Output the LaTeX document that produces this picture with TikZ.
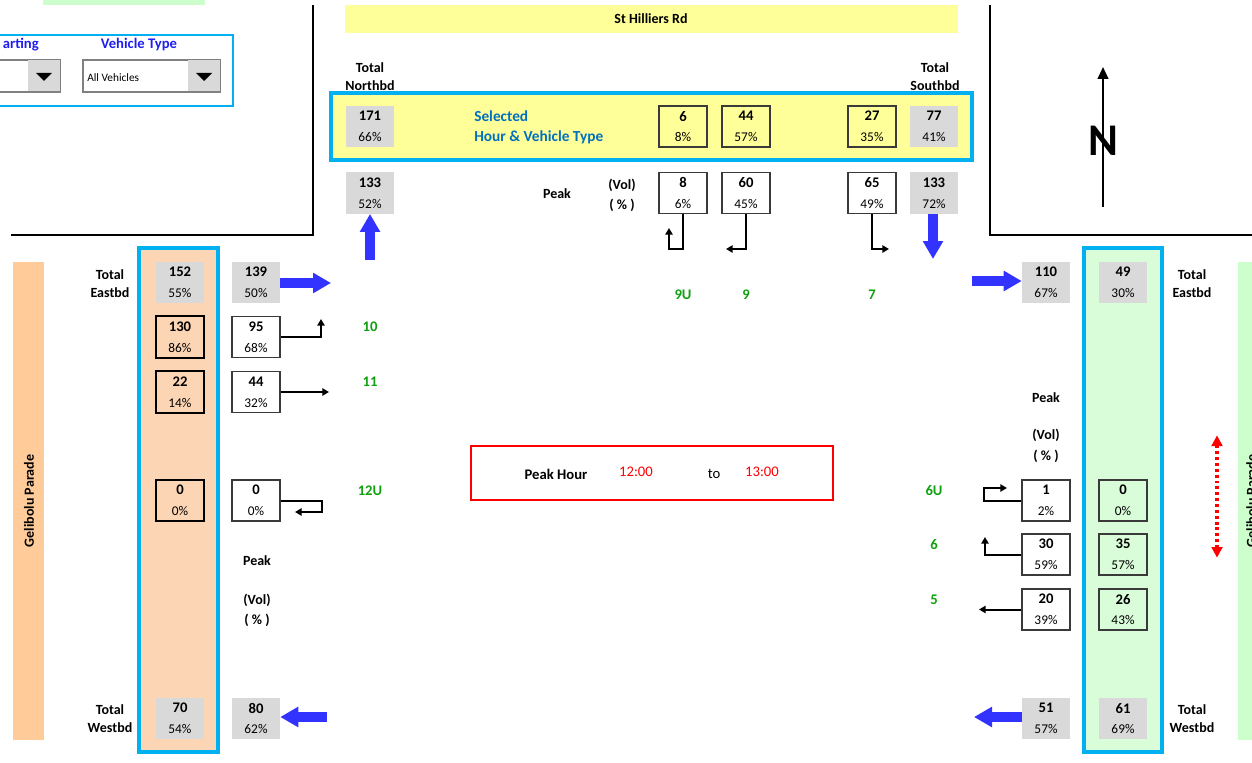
\documentclass[tikz,border=0pt]{standalone}
\usepackage{fontspec}
\setmainfont{Carlito}
\usetikzlibrary{arrows.meta}
\definecolor{selblue}{HTML}{00B0F0}
\definecolor{ylw}{HTML}{FFFF99}
\definecolor{cgray}{HTML}{D9D9D9}
\definecolor{peach}{HTML}{FCD5B4}
\definecolor{peachstrip}{HTML}{FFCC99}
\definecolor{lgreen}{HTML}{D9FCD9}
\definecolor{stripgreen}{HTML}{CCFFCC}
\definecolor{gtext}{HTML}{10A010}
\definecolor{barrow}{HTML}{3333FF}
\definecolor{headblue}{HTML}{1F1FF0}
\definecolor{seltext}{HTML}{0070C0}
\definecolor{cbord}{HTML}{3A3A3A}
\newcommand\cv[2]{{\bfseries\fontsize{11}{15.5}\selectfont #1}\\#2\%}
\tikzset{
  cell/.style={minimum width=36pt, minimum height=31pt, inner sep=0pt, align=center, font=\fontsize{10}{15.5}\selectfont},
  gcell/.style={cell, fill=cgray},
  wcell/.style={cell, draw=cbord, line width=1.1pt, fill=white},
  ycell/.style={cell, draw=cbord, line width=1.1pt, fill=ylw},
  pcell/.style={cell, draw=black, line width=1.4pt, fill=peach},
  lgcell/.style={cell, draw=cbord, line width=1.1pt, fill=lgreen},
  lbl/.style={font=\bfseries\fontsize{10.5}{13.5}\selectfont, align=center, inner sep=0pt},
  glbl/.style={font=\bfseries\fontsize{11}{13}\selectfont, text=gtext, inner sep=0pt},
  road/.style={line width=1.6pt, black},
  colbox/.style={draw=selblue, line width=2.4pt},
  fatarrow/.style={barrow, line width=8pt, -{Triangle[length=13.5pt,width=14.5pt]}},
  turn/.style={black, line width=1.5pt, -{Triangle[length=5pt,width=5.5pt]}},
  reddot/.style={red, line width=2.4pt, dash pattern=on 2.2pt off 2.2pt, {Triangle[length=8pt,width=8pt,sep=1pt]}-{Triangle[length=8pt,width=8pt,sep=1pt]}},
}
\begin{document}
\begin{tikzpicture}[x=0.75pt,y=-0.75pt]
\useasboundingbox (0,0) rectangle (1252,763);
\fill[white] (0,0) rectangle (1252,763);

% ---------- top-left controls ----------
\fill[stripgreen] (43,0) rectangle (205,5);
\draw[selblue, line width=2.2pt, fill=white] (-6,35) rectangle (233,106);
\node[anchor=east, inner sep=0pt, font=\bfseries\fontsize{11}{13}\selectfont, text=headblue] (startlbl) at (39,45) {arting};
\node[inner sep=0pt, font=\bfseries\fontsize{11}{13}\selectfont, text=headblue] (vtlbl) at (139,45) {Vehicle Type};
\draw[gray, line width=0.8pt, fill=white] (-6,60) rectangle (60,92);
\fill[cgray] (28,60.5) rectangle (59.5,91.5);
\fill[black] (36,73) -- (52,73) -- (44,81) -- cycle;
\draw[gray, line width=0.8pt, fill=white] (83,60) rectangle (220,92);
\fill[cgray] (188,60.5) rectangle (219.5,91.5);
\fill[black] (196,73) -- (212,73) -- (204,81) -- cycle;
\node[anchor=west, inner sep=0pt, font=\fontsize{8.5}{10}\selectfont] (allveh) at (87,78) {All Vehicles};

% ---------- roads ----------
\draw[road] (313,5) -- (313,235) -- (11,235);
\draw[road] (990,5) -- (990,235) -- (1252,235);

% ---------- north compass ----------
\coordinate (nbot) at (1103,207);
\coordinate (ntop) at (1103,67);
\draw[black, line width=1.6pt, -{Triangle[length=9pt,width=8pt]}] (nbot) -- (ntop);
\node[inner sep=0pt, font=\bfseries\fontsize{34}{34}\selectfont] (northN) at (1103,141) {N};

% ---------- top: St Hilliers Rd ----------
\fill[ylw] (345,5) rectangle (958,33);
\node[lbl] (sthr) at (651,19) {St Hilliers Rd};
\node[lbl] (totnb) at (370,77) {Total\\Northbd};
\node[lbl] (totsb) at (935,77) {Total\\Southbd};
\draw[selblue, line width=2.4pt, fill=ylw] (331,93) rectangle (972,160);
\node[gcell] (N171) at (370,126.5) {\cv{171}{66}};
\node[anchor=west, align=left, inner sep=0pt, text=seltext, font=\bfseries\fontsize{11.5}{15}\selectfont] (seltxt) at (474,127) {Selected\\Hour \& Vehicle Type};
\node[ycell] (s6) at (683,126.5) {\cv{6}{8}};
\node[ycell] (s44) at (746,126.5) {\cv{44}{57}};
\node[ycell] (s27) at (872,126.5) {\cv{27}{35}};
\node[gcell] (S77) at (934,126.5) {\cv{77}{41}};

\node[gcell] (N133) at (370,193) {\cv{133}{52}};
\node[lbl] (pkN) at (557,194) {Peak};
\node[lbl, font=\bfseries\fontsize{10.5}{15}\selectfont] (volN) at (622,195) {(Vol)\\( \% )};
\node[wcell] (p8) at (683,193) {\cv{8}{6}};
\node[wcell] (p60) at (746,193) {\cv{60}{45}};
\node[wcell] (p65) at (872,193) {\cv{65}{49}};
\node[gcell] (S133) at (934,193) {\cv{133}{72}};

\coordinate (u9) at (669,228);
\coordinate (t9) at (726,249);
\coordinate (t7) at (889,249);
\draw[turn] (p8.south) -- ++(0,35) -| (u9);
\draw[turn] (p60.south) |- (t9);
\draw[turn] (p65.south) |- (t7);
\coordinate (nbtail) at (370,260);
\draw[fatarrow] (nbtail) -- (N133.south);
\coordinate (sbtip) at (933,259);
\draw[fatarrow] (S133.south -| sbtip) -- (sbtip);
\node[glbl] (g9U) at (683,295) {9U};
\node[glbl] (g9) at (746,295) {9};
\node[glbl] (g7) at (872,295) {7};

% ---------- left: Gelibolu Parade ----------
\fill[peachstrip] (13,262) rectangle (44,740);
\node[lbl, rotate=90] (gpL) at (29,501) {Gelibolu Parade};
\draw[colbox, fill=peach] (139,248) rectangle (218,752);
\node[lbl] (totebL) at (110,284) {Total\\Eastbd};
\node[gcell] (E152) at (180,282.5) {\cv{152}{55}};
\node[gcell] (E139) at (256,282.5) {\cv{139}{50}};
\coordinate (ebtip) at (331,283);
\draw[fatarrow] (E139.east |- ebtip) -- (ebtip);
\node[pcell] (E130) at (180,337) {\cv{130}{86}};
\node[wcell] (E95) at (256,337) {\cv{95}{68}};
\coordinate (l10) at (321,319);
\draw[turn] (E95.east) -| (l10);
\node[glbl] (g10) at (370,327) {10};
\node[pcell] (E22) at (180,392) {\cv{22}{14}};
\node[wcell] (E44) at (256,392) {\cv{44}{32}};
\coordinate (t11) at (329,392);
\draw[turn] (E44.east) -- (t11);
\node[glbl] (g11) at (370,382) {11};
\node[pcell] (E0a) at (180,500.5) {\cv{0}{0}};
\node[wcell] (E0b) at (256,500.5) {\cv{0}{0}};
\coordinate (u12) at (295,512);
\draw[turn] (E0b.east) -- ++(41,0) |- (u12);
\node[glbl] (g12U) at (370,491) {12U};
\node[lbl] (pkL) at (257,561) {Peak};
\node[lbl, font=\bfseries\fontsize{10.5}{15}\selectfont] (volL) at (257,610) {(Vol)\\( \% )};
\node[lbl] (totwbL) at (110,719) {Total\\Westbd};
\node[gcell] (W70) at (180,718.5) {\cv{70}{54}};
\node[gcell] (W80) at (256,718.5) {\cv{80}{62}};
\coordinate (wbtail) at (327,717);
\draw[fatarrow] (wbtail) -- (W80.east |- wbtail);

% ---------- centre: peak hour ----------
\node[draw=red, line width=1.3pt, minimum width=271.5pt, minimum height=40.5pt, inner sep=0pt] (phbox) at (652,473) {};
\node[lbl, font=\bfseries\fontsize{11}{13}\selectfont] (phlbl) at (556,474) {Peak Hour};
\node[inner sep=0pt, text=red, font=\fontsize{11}{13}\selectfont] (ph1) at (636,472) {12:00};
\node[inner sep=0pt, font=\fontsize{11}{13}\selectfont] (phto) at (714,474) {to};
\node[inner sep=0pt, text=red, font=\fontsize{11}{13}\selectfont] (ph2) at (762,472) {13:00};

% ---------- right side ----------
\coordinate (ebtail2) at (972,281);
\node[gcell] (E110) at (1046,282.5) {\cv{110}{67}};
\draw[fatarrow] (ebtail2) -- (E110.west |- ebtail2);
\draw[colbox, fill=lgreen] (1084,248) rectangle (1162,752);
\node[gcell] (E49) at (1123,282.5) {\cv{49}{30}};
\node[lbl] (totebR) at (1192,284) {Total\\Eastbd};
\fill[stripgreen] (1238,262) rectangle (1254,740);
\begin{scope}
\clip (1238,262) rectangle (1252,740);
\node[lbl, rotate=90, anchor=base] (gpR) at (1256,501) {Gelibolu Parade};
\end{scope}
\node[lbl] (pkR) at (1046,398) {Peak};
\node[lbl, font=\bfseries\fontsize{10.5}{15.5}\selectfont] (volR) at (1046,446) {(Vol)\\( \% )};
\coordinate (rtop) at (1217,434);
\coordinate (rbot) at (1217,559);
\draw[reddot] (rtop) -- (rbot);

\node[wcell] (W1) at (1046,500.5) {\cv{1}{2}};
\node[lgcell] (G0) at (1123,500.5) {\cv{0}{0}};
\coordinate (u6) at (1007,488);
\draw[turn] (W1.west) -- ++(-37,0) |- (u6);
\node[glbl] (g6U) at (934,491) {6U};
\node[wcell] (W30) at (1046,554.5) {\cv{30}{59}};
\node[lgcell] (G35) at (1123,554.5) {\cv{35}{57}};
\coordinate (l6) at (985,537);
\draw[turn] (W30.west) -| (l6);
\node[glbl] (g6) at (934,545) {6};
\node[wcell] (W20) at (1046,609.5) {\cv{20}{39}};
\node[lgcell] (G26) at (1123,609.5) {\cv{26}{43}};
\coordinate (t5) at (979,609.5);
\draw[turn] (W20.west) -- (t5);
\node[glbl] (g5) at (934,600) {5};

\node[gcell] (W51) at (1046,718.5) {\cv{51}{57}};
\node[gcell] (W61) at (1123,718.5) {\cv{61}{69}};
\coordinate (wbtip2) at (974,717);
\draw[fatarrow] (W51.west |- wbtip2) -- (wbtip2);
\node[lbl] (totwbR) at (1192,719) {Total\\Westbd};
\end{tikzpicture}
\end{document}
